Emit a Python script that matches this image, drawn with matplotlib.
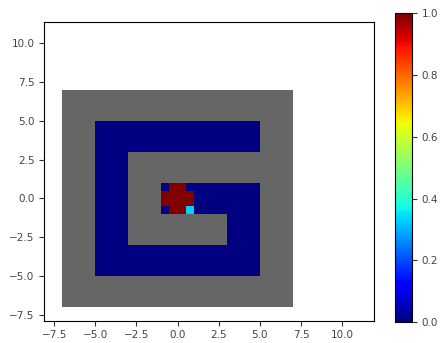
import numpy as np
import matplotlib
matplotlib.use("Agg")
import matplotlib.pyplot as plt

# grid settings
cell = 0.5
half = 7.0

# open (non-wall) corridors of the G maze: (x0, x1, y0, y1)
open_rects = [(-5, 5, 3, 5),
              (-5, -3, -5, 5),
              (-5, 5, -5, -3),
              (3, 5, -3, 1),
              (-1, 5, -1, 1)]

# visited cells (lower-left corner) and their values
hot_x = [-0.5, 0.0, -1.0, -0.5, 0.0, 0.5, -1.0, -0.5, 0.0, 0.5, -0.5, 0.0, 0.5]
hot_y = [0.5, 0.5, 0.0, 0.0, 0.0, 0.0, -0.5, -0.5, -0.5, -0.5, -1.0, -1.0, -1.0]
hot_v = [1.0, 1.0, 1.0, 1.0, 1.0, 1.0, 1.0, 1.0, 1.0, 1.0, 1.0, 1.0, 0.33]

cbar_ticks = [0.0, 0.2, 0.4, 0.6, 0.8, 1.0]

edges = np.arange(-half, half + cell / 2, cell)
centers = edges[:-1] + cell / 2
n = len(centers)
grid = np.full((n, n), np.nan)
for x0, x1, y0, y1 in open_rects:
    mx = (centers > x0) & (centers < x1)
    my = (centers > y0) & (centers < y1)
    grid[np.ix_(my, mx)] = 0.0
for x, y, v in zip(hot_x, hot_y, hot_v):
    i = int(round((y + half) / cell))
    j = int(round((x + half) / cell))
    grid[i, j] = v

cmap = plt.get_cmap("jet").copy()
cmap.set_bad("#666666")

fig = plt.figure(figsize=(4.42, 3.43), dpi=100)
ax = fig.add_axes([0.1002, 0.065, 0.7466, 0.8717])
cax = fig.add_axes([0.8937, 0.0612, 0.0378, 0.9])

mesh = ax.pcolormesh(edges, edges, np.ma.masked_invalid(grid),
                     cmap=cmap, vmin=0, vmax=1)
ax.set_xlim(-8.1, 11.95)
ax.set_ylim(-7.9, 11.4)
ax.set_xticks([-7.5, -5, -2.5, 0, 2.5, 5, 7.5, 10])
ax.set_yticks([-7.5, -5, -2.5, 0, 2.5, 5, 7.5, 10])
ax.tick_params(labelsize=7.5, colors="#333333", labelcolor="#444444")

cb = fig.colorbar(mesh, cax=cax, ticks=cbar_ticks)
cb.ax.tick_params(labelsize=7.5, colors="#333333", labelcolor="#444444")

fig.savefig("out.png", dpi=100)
